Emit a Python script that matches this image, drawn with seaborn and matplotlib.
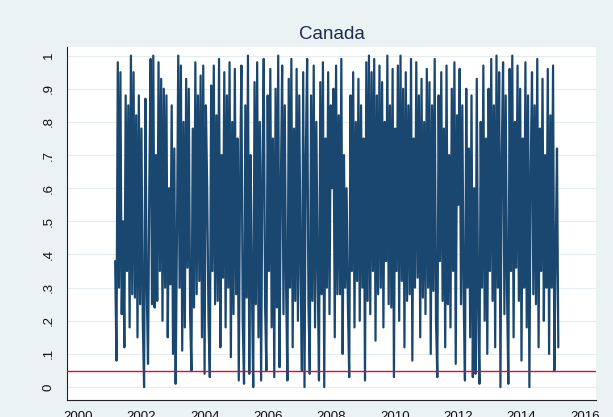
import numpy as np
import pandas as pd
import matplotlib
matplotlib.use("Agg")
import matplotlib.pyplot as plt
import seaborn as sns

# Rolling p-values, Canada, by year block
p_2001 = [0.38, 0.08, 0.98, 0.30, 0.95, 0.22, 0.50, 0.12, 0.88, 0.35, 0.85,
          0.18, 1.00, 0.28, 0.95, 0.27, 0.82, 0.15, 0.88, 0.25, 0.78, 0.20]
p_2002 = [0.00, 0.87, 0.30, 0.07, 0.62, 0.99, 0.25, 1.00, 0.24, 0.70, 0.26, 0.98,
          0.35, 0.93, 0.20, 0.90, 0.30, 0.88, 0.15, 0.60, 0.31, 0.85, 0.10, 0.72]
p_2003 = [0.01, 0.45, 1.00, 0.30, 0.97, 0.11, 0.80, 0.18, 0.93, 0.36, 0.90, 0.22,
          0.05, 0.78, 0.24, 0.98, 0.28, 0.88, 0.32, 0.94, 0.15, 0.97, 0.04, 0.85]
p_2004 = [0.60, 0.20, 0.03, 0.91, 0.35, 0.97, 0.25, 0.82, 0.26, 0.99, 0.12, 0.70,
          0.33, 0.95, 0.18, 0.88, 0.30, 0.98, 0.09, 0.80, 0.22, 0.96, 0.28, 0.75]
p_2005 = [0.02, 0.62, 0.97, 0.20, 0.01, 0.85, 0.27, 1.00, 0.04, 0.70, 0.30, 0.00,
          0.92, 0.25, 0.98, 0.15, 0.80, 0.02, 0.66, 0.99, 0.25, 0.05, 0.88, 0.35]
p_2006 = [0.96, 0.18, 0.75, 0.03, 0.90, 0.24, 1.00, 0.06, 0.60, 0.97, 0.22, 0.85,
          0.30, 0.02, 0.93, 0.30, 0.99, 0.12, 0.78, 0.26, 0.96, 0.20, 0.88, 0.35]
p_2007 = [0.05, 0.95, 0.00, 0.70, 0.99, 0.25, 0.04, 0.88, 0.26, 0.97, 0.18, 0.80,
          0.35, 0.02, 0.92, 0.28, 0.98, 0.00, 0.75, 0.30, 0.95, 0.22, 0.85, 0.60]
p_2008 = [0.90, 0.15, 0.97, 0.28, 0.82, 0.28, 0.99, 0.10, 0.70, 0.30, 0.60, 0.25,
          0.03, 0.88, 0.35, 0.95, 0.18, 0.80, 0.32, 0.93, 0.20, 0.85, 0.30, 0.75]
p_2009 = [0.02, 0.98, 0.26, 1.00, 0.22, 0.95, 0.35, 0.99, 0.14, 0.88, 0.28, 0.97,
          0.30, 0.92, 0.18, 0.80, 0.38, 1.00, 0.25, 0.85, 0.24, 0.96, 0.03, 0.78]
p_2010 = [0.35, 0.97, 0.20, 1.00, 0.32, 0.90, 0.12, 0.95, 0.26, 0.85, 0.28, 0.99,
          0.08, 0.75, 0.30, 0.98, 0.33, 0.88, 0.15, 0.93, 0.27, 0.80, 0.22, 0.96]
p_2011 = [0.30, 0.92, 0.10, 0.85, 0.29, 0.99, 0.20, 0.03, 0.88, 0.38, 0.95, 0.26,
          0.78, 0.12, 0.97, 0.25, 0.70, 0.18, 0.90, 0.35, 0.98, 0.07, 0.82, 0.55]
p_2012 = [0.96, 0.25, 0.85, 0.28, 0.02, 0.90, 0.30, 0.72, 0.15, 0.88, 0.03, 0.60,
          0.04, 0.93, 0.24, 0.01, 0.80, 0.30, 0.97, 0.20, 0.75, 0.10, 0.90, 0.35]
p_2013 = [0.99, 0.26, 0.85, 0.12, 1.00, 0.30, 0.95, 0.00, 0.70, 0.98, 0.22, 0.88,
          0.29, 0.01, 0.96, 0.35, 1.00, 0.15, 0.80, 0.36, 0.97, 0.26, 0.90, 0.08]
p_2014 = [0.75, 0.30, 0.98, 0.18, 0.88, 0.00, 0.65, 0.95, 0.28, 0.85, 0.25, 0.99,
          0.12, 0.78, 0.35, 0.93, 0.20, 0.70, 0.30, 0.96, 0.10, 0.82, 0.30, 0.97]
p_2015 = [0.05, 0.40, 0.72, 0.12]

pvalues = (p_2001 + p_2002 + p_2003 + p_2004 + p_2005 + p_2006 + p_2007 + p_2008
           + p_2009 + p_2010 + p_2011 + p_2012 + p_2013 + p_2014 + p_2015)
first_obs, last_obs = 2001.17, 2015.16
threshold = 0.05

year_ticks = list(range(2000, 2017, 2))
y_ticks = [0, .1, .2, .3, .4, .5, .6, .7, .8, .9, 1]
y_labels = ["0", ".1", ".2", ".3", ".4", ".5", ".6", ".7", ".8", ".9", "1"]

df = pd.DataFrame({
    "date": np.linspace(first_obs, last_obs, len(pvalues)),
    "p": pvalues,
})

bg = "#eaf2f3"
navy = "#1a476f"

sns.set_style("white")
plt.rcParams["font.family"] = ["Liberation Sans", "DejaVu Sans"]
# keep every up/down swing of the dense series instead of merging them
plt.rcParams["path.simplify"] = False

fig = plt.figure(figsize=(6.13, 4.17), dpi=100, facecolor=bg)
ax = fig.add_axes([67 / 613, 1 - 400 / 417, (596 - 67) / 613, (400 - 47) / 417])
ax.set_facecolor("white")

for yv in y_ticks:
    ax.axhline(yv, color="#e4ecef", lw=0.8, zorder=0)

sns.lineplot(data=df, x="date", y="p", ax=ax, color=navy, lw=1.6,
             estimator=None, zorder=2)
ax.axhline(threshold, color="#cc1040", lw=1.0, zorder=3)

ax.set_xlim(1999.65, 2016.35)
ax.set_ylim(-0.039, 1.026)
ax.set_xticks(year_ticks)
ax.set_xticklabels([str(y) for y in year_ticks])
ax.set_yticks(y_ticks)
ax.set_yticklabels(y_labels, rotation=90, va="center")
ax.set_xlabel("")
ax.set_ylabel("")

for side in ["top", "right"]:
    ax.spines[side].set_visible(False)
for side in ["left", "bottom"]:
    ax.spines[side].set_color("#222222")
    ax.spines[side].set_linewidth(0.8)

ax.tick_params(axis="both", direction="out", length=5, width=0.8,
               color="#222222", labelsize=9.5, labelcolor="#111111", pad=3)
ax.tick_params(axis="y", pad=4)

ax.set_title("Canada", fontsize=13.5, color="#1e2d4f", pad=6)

fig.savefig("out.png", dpi=100, facecolor=bg)
